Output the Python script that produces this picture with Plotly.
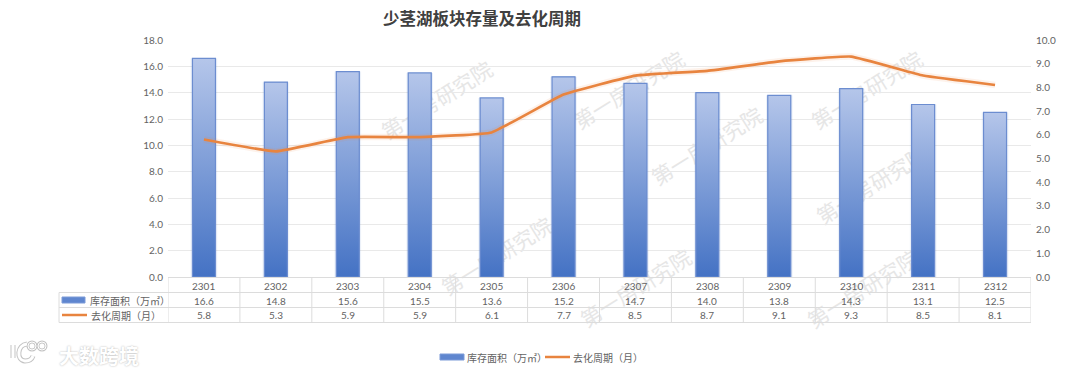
import plotly.graph_objects as go

categories = ["2301","2302","2303","2304","2305","2306","2307","2308","2309","2310","2311","2312"]
stock_area = [16.6,14.8,15.6,15.5,13.6,15.2,14.7,14.0,13.8,14.3,13.1,12.5]
cycle_months = [5.8,5.3,5.9,5.9,6.1,7.7,8.5,8.7,9.1,9.3,8.5,8.1]
bar_name = "库存面积（万㎡）"
line_name = "去化周期（月）"
title_text = "少茎湖板块存量及去化周期"
watermark = "第一房研究院"
logo_text = "大数跨境"

L, R, T, B = 168, 1031, 40, 277
W, H = 1080, 375
FONT = "Lato, 'Noto Sans CJK SC', sans-serif"
CJK = "'Noto Sans CJK SC', sans-serif"
GREY = "#636363"
GRID = "#E9E9E9"
TBL = "#DCDCDC"
BLUE = "#4472C4"
ORANGE = "#E8843F"

def px(x): return (x - L) / (R - L)
def py(y): return (B - y) / (B - T)

xs = list(range(len(categories)))
bw = 0.32

fig = go.Figure()
fig.add_bar(x=xs, y=stock_area, width=bw + 0.05, marker=dict(color="rgba(68,114,196,0.10)", line_width=0),
            hoverinfo="skip", showlegend=False)
fig.add_bar(x=xs, y=stock_area, width=bw, name=bar_name, marker=dict(color=BLUE, line_width=0), showlegend=False)
for x, v in zip(xs, stock_area):
    fig.add_scatter(x=[x-bw/2, x-bw/2, x+bw/2, x+bw/2, x-bw/2], y=[0, v, v, 0, 0], mode="lines",
                    fill="toself", line=dict(color="#6C8DD0", width=1.2),
                    fillgradient=dict(type="vertical", colorscale=[[0, "#4472C4"], [1, "#B5C6EA"]]),
                    hoverinfo="skip", showlegend=False)
fig.add_scatter(x=xs, y=cycle_months, yaxis="y2", mode="lines", hoverinfo="skip", showlegend=False,
                line=dict(color="rgba(233,130,60,0.10)", width=6.5, shape="spline", smoothing=0.3))
fig.add_scatter(x=xs, y=cycle_months, yaxis="y2", mode="lines", name=line_name, showlegend=False,
                line=dict(color=ORANGE, width=2.7, shape="spline", smoothing=0.3))

shapes, ann = [], []

# watermarks (behind the marks)
for cx, cy in [(438,102),(630,92),(708,148),(868,92),(873,187),(498,258),(637,290),(864,291)]:
    shapes.append(dict(type="rect", xref="paper", yref="paper", layer="below",
                       x0=px(cx-60), x1=px(cx+60), y0=py(cy+10), y1=py(cy-10),
                       line_width=0, fillcolor="rgba(0,0,0,0)",
                       label=dict(text=watermark, textangle=-32, textposition="middle center",
                                  font=dict(family=CJK, size=21, color="#E6E6E6"))))

# data table grid
rows = [277.5, 292.5, 307.5, 322.5]
for i, y in enumerate(rows):
    shapes.append(dict(type="line", xref="paper", yref="paper", x0=px(L if i == 0 else 59), x1=1,
                       y0=py(y), y1=py(y), line=dict(color=TBL, width=1)))
shapes.append(dict(type="line", xref="paper", yref="paper", x0=px(59), x1=px(59),
                   y0=py(292.5), y1=py(322.5), line=dict(color=TBL, width=1)))
for i in range(len(categories) + 1):
    shapes.append(dict(type="line", xref="x", yref="paper", x0=i-0.5, x1=i-0.5,
                       y0=py(277.5), y1=py(322.5), line=dict(color=TBL, width=1)))

def txt(x, y, s, xanchor="center", size=10, xref="x", color=GREY, family=FONT):
    ann.append(dict(x=x, y=py(y), xref=xref, yref="paper", text=s, showarrow=False, xanchor=xanchor,
                    yanchor="middle", font=dict(family=family, size=size, color=color)))

for x, c, a, m in zip(xs, categories, stock_area, cycle_months):
    txt(x, 285.5, c)
    txt(x, 300.5, f"{a:.1f}")
    txt(x, 315, f"{m:.1f}")

def key_bar(x0, x1, yc):
    shapes.append(dict(type="rect", xref="paper", yref="paper", x0=px(x0), x1=px(x1),
                       y0=py(yc+3), y1=py(yc-3), fillcolor="#5F86CF", line=dict(color="#7C9BD8", width=1)))
def key_line(x0, x1, yc):
    shapes.append(dict(type="line", xref="paper", yref="paper", x0=px(x0), x1=px(x1),
                       y0=py(yc), y1=py(yc), line=dict(color=ORANGE, width=2.5)))

key_bar(62, 85, 300)
txt(px(88), 300.5, bar_name, xanchor="left", xref="paper", size=10, family=CJK)
key_line(62, 87, 315)
txt(px(89), 315, line_name, xanchor="left", xref="paper", size=10, family=CJK)
key_bar(440, 464, 357)
txt(px(465), 357.5, bar_name, xanchor="left", xref="paper", size=10, family=CJK)
key_line(545, 570, 357)
txt(px(571), 357.5, line_name, xanchor="left", xref="paper", size=10, family=CJK)

# title
ann.append(dict(x=px(482), y=py(18), xref="paper", yref="paper", text=f"<b>{title_text}</b>", showarrow=False,
                xanchor="center", yanchor="middle", font=dict(family=CJK, size=16.5, color="#404040")))

# logo
ann.append(dict(x=px(57), y=py(355), xref="paper", yref="paper", text=logo_text, showarrow=False,
                xanchor="left", yanchor="middle",
                font=dict(family=CJK, size=20, weight=700, color="#FFFFFF", shadow="0 0 2px #B0B0B0")))
def P(x, y): return f"{px(x):.5f},{py(y):.5f}"
logo_paths = [
    f"M{P(13,345)} L{P(13,358)}",
    f"M{P(27,344)} C{P(17,345)} {P(16,360)} {P(25,361)} C{P(29,361)} {P(32,359)} {P(33,356)}",
]
for c_, w_ in [("#C4C4C4", 5), ("#FFFFFF", 3)]:
    for p_ in logo_paths:
        shapes.append(dict(type="path", xref="paper", yref="paper", path=p_, line=dict(color=c_, width=w_)))
    for cx_, cy_, r_ in [(32, 346, 4), (42, 346, 4)]:
        shapes.append(dict(type="circle", xref="paper", yref="paper", x0=px(cx_-r_), x1=px(cx_+r_),
                           y0=py(cy_+r_), y1=py(cy_-r_), line=dict(color=c_, width=w_-2)))

fig.update_layout(
    width=W, height=H, margin=dict(l=L, r=W-R, t=T, b=H-B, pad=0, autoexpand=False),
    paper_bgcolor="white", plot_bgcolor="rgba(0,0,0,0)", barmode="overlay", showlegend=False,
    font=dict(family=FONT, size=10, color=GREY), shapes=shapes, annotations=ann,
    xaxis=dict(range=[-0.5, len(categories)-0.5], tickvals=xs, ticktext=[""]*len(xs), showgrid=False,
               zeroline=False, showline=False, ticks=""),
    yaxis=dict(range=[0, 18], dtick=2, tickformat=".1f", gridcolor=GRID, gridwidth=1, zeroline=False,
               showline=False, ticks="", ticklabelstandoff=4),
    yaxis2=dict(range=[0, 10], dtick=1, tickformat=".1f", overlaying="y", side="right", showgrid=False,
                zeroline=False, showline=False, ticks="", ticklabelstandoff=4),
)
fig.write_html("out.html", config={"displayModeBar": False},
               post_script="document.body.style.margin='0';")
